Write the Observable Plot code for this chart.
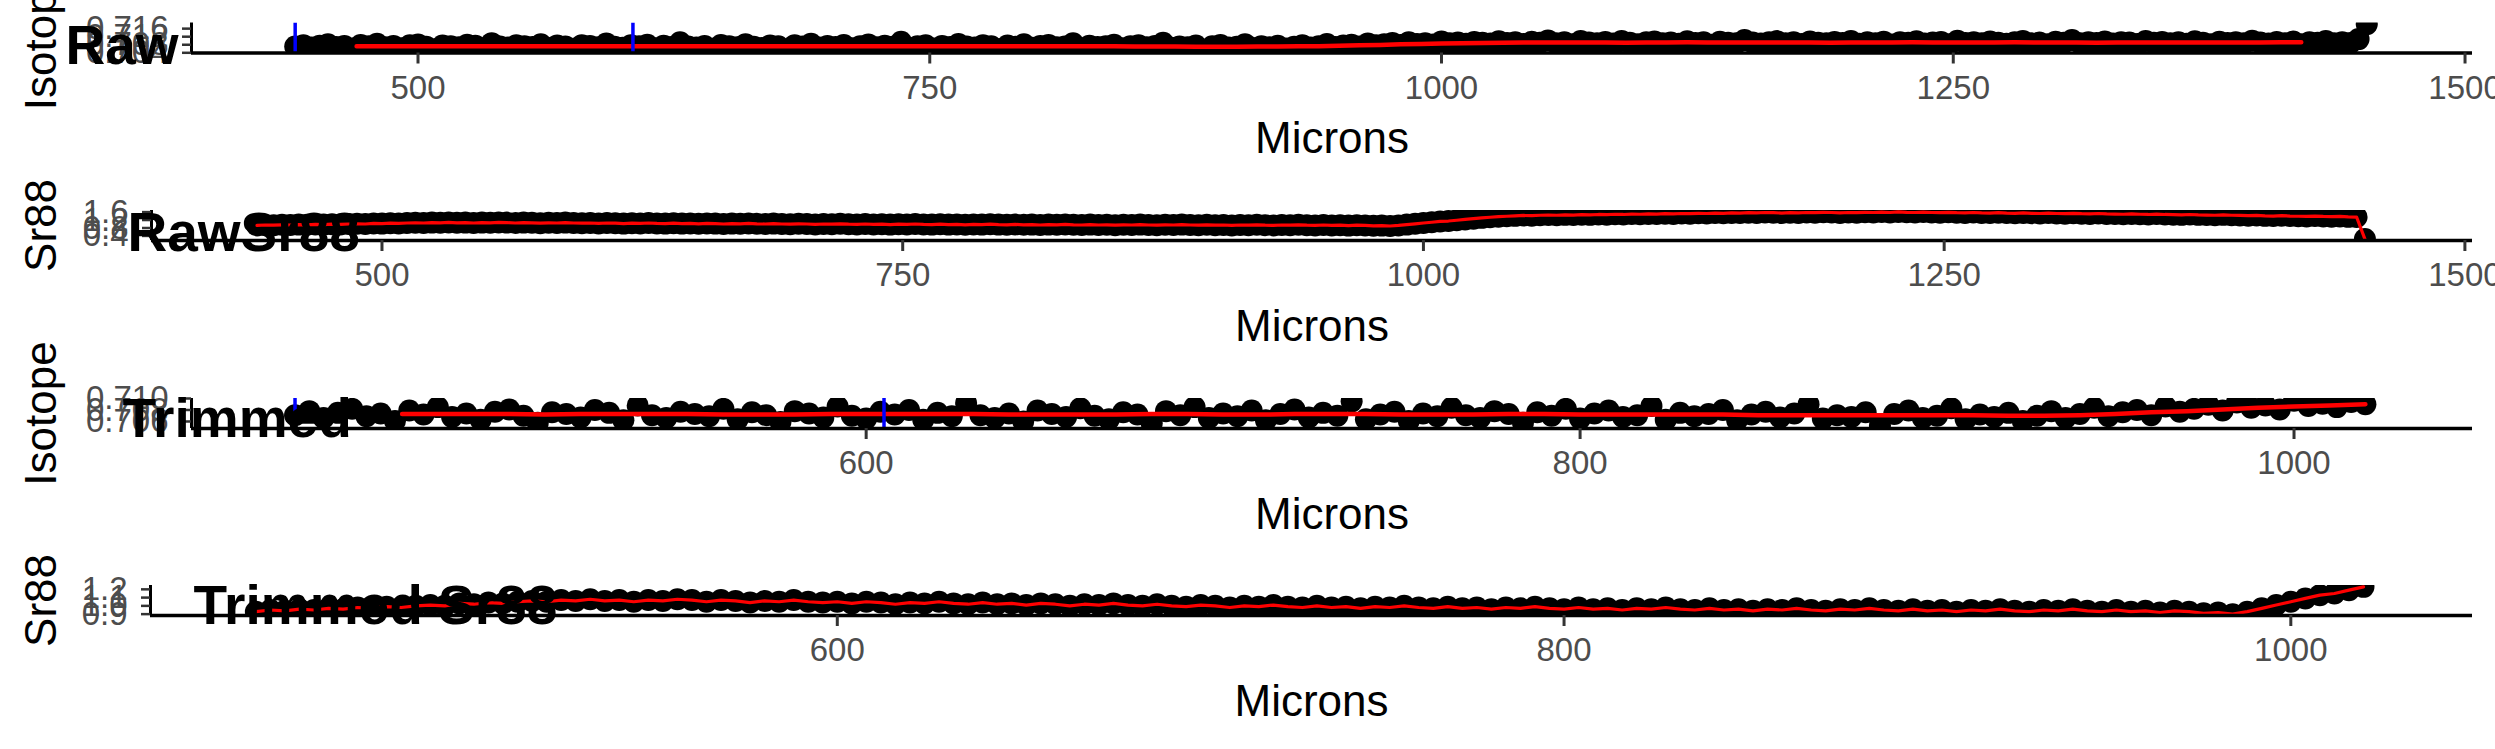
<!DOCTYPE html>
<html><head><meta charset="utf-8">
<script src="https://cdn.jsdelivr.net/npm/d3@7"></script>
<script src="https://cdn.jsdelivr.net/npm/@observablehq/plot@0.6"></script>
<style>
html,body{margin:0;padding:0;background:#fff;}
#chart{width:2495px;height:749px;position:relative;overflow:hidden;background:#fff;}
#chart svg{display:block;overflow:visible;}
</style></head><body><div id="chart"></div>
<script>
// ---------------- data ----------------
const microns = [
440,444,448,452,456,460,464,468,472,476,
480,484,488,492,496,500,504,508,512,516,
520,524,528,532,536,540,544,548,552,556,
560,564,568,572,576,580,584,588,592,596,
600,604,608,612,616,620,624,628,632,636,
640,644,648,652,656,660,664,668,672,676,
680,684,688,692,696,700,704,708,712,716,
720,724,728,732,736,740,744,748,752,756,
760,764,768,772,776,780,784,788,792,796,
800,804,808,812,816,820,824,828,832,836,
840,844,848,852,856,860,864,868,872,876,
880,884,888,892,896,900,904,908,912,916,
920,924,928,932,936,940,944,948,952,956,
960,964,968,972,976,980,984,988,992,996,
1000,1004,1008,1012,1016,1020,1024,1028,1032,1036,
1040,1044,1048,1052,1056,1060,1064,1068,1072,1076,
1080,1084,1088,1092,1096,1100,1104,1108,1112,1116,
1120,1124,1128,1132,1136,1140,1144,1148,1152,1156,
1160,1164,1168,1172,1176,1180,1184,1188,1192,1196,
1200,1204,1208,1212,1216,1220,1224,1228,1232,1236,
1240,1244,1248,1252,1256,1260,1264,1268,1272,1276,
1280,1284,1288,1292,1296,1300,1304,1308,1312,1316,
1320,1324,1328,1332,1336,1340,1344,1348,1352,1356,
1360,1364,1368,1372,1376,1380,1384,1388,1392,1396,
1400,1404,1408,1412,1416,1420,1424,1428,1432,1436,
1440,1444,1448,1452];

const isotope = [
0.7071,0.7078,0.7066,0.7075,0.7082,0.7069,0.7074,0.7061,0.7079,0.7072,
0.7085,0.7068,0.7074,0.7063,0.7077,0.7081,0.7070,0.7058,0.7076,0.7073,
0.7067,0.7080,0.7075,0.7062,0.7088,0.7071,0.7066,0.7077,0.7073,0.7069,
0.7082,0.7064,0.7076,0.7071,0.7059,0.7078,0.7074,0.7067,0.7086,0.7070,
0.7065,0.7077,0.7072,0.7080,0.7063,0.7075,0.7069,0.7092,0.7071,0.7066,
0.7074,0.7060,0.7079,0.7073,0.7068,0.7083,0.7070,0.7064,0.7076,0.7072,
0.7057,0.7078,0.7071,0.7085,0.7066,0.7074,0.7069,0.7079,0.7062,0.7073,
0.7081,0.7067,0.7075,0.7070,0.7095,0.7064,0.7072,0.7077,0.7061,0.7074,
0.7069,0.7084,0.7071,0.7066,0.7078,0.7073,0.7058,0.7076,0.7070,0.7082,
0.7065,0.7074,0.7079,0.7068,0.7071,0.7087,0.7063,0.7075,0.7069,0.7073,
0.7080,0.7062,0.7072,0.7077,0.7067,0.7074,0.7090,0.7065,0.7071,0.7068,
0.7076,0.7053,0.7073,0.7079,0.7066,0.7070,0.7083,0.7064,0.7072,0.7068,
0.7075,0.7061,0.7070,0.7078,0.7066,0.7073,0.7084,0.7069,0.7076,0.7080,
0.7071,0.7086,0.7077,0.7082,0.7089,0.7079,0.7093,0.7084,0.7088,0.7081,
0.7096,0.7087,0.7091,0.7085,0.7094,0.7090,0.7086,0.7097,0.7089,0.7093,
0.7084,0.7095,0.7090,0.7101,0.7087,0.7092,0.7083,0.7098,0.7091,0.7088,
0.7094,0.7086,0.7099,0.7090,0.7082,0.7093,0.7096,0.7088,0.7091,0.7085,
0.7097,0.7089,0.7092,0.7080,0.7095,0.7090,0.7087,0.7103,0.7091,0.7086,
0.7093,0.7098,0.7088,0.7092,0.7084,0.7096,0.7090,0.7087,0.7094,0.7089,
0.7099,0.7085,0.7092,0.7088,0.7095,0.7081,0.7093,0.7090,0.7097,0.7086,
0.7091,0.7094,0.7083,0.7100,0.7089,0.7092,0.7087,0.7096,0.7090,0.7085,
0.7093,0.7098,0.7088,0.7091,0.7082,0.7095,0.7090,0.7104,0.7087,0.7092,
0.7089,0.7096,0.7086,0.7093,0.7091,0.7084,0.7099,0.7090,0.7094,0.7088,
0.7092,0.7085,0.7097,0.7090,0.7083,0.7095,0.7089,0.7093,0.7087,0.7100,
0.7091,0.7086,0.7094,0.7088,0.7096,0.7082,0.7092,0.7090,0.7098,0.7087,
0.7093,0.7089,0.7108,0.7182];

const sr88 = [
0.93,0.95,0.94,0.96,0.95,0.97,0.96,0.98,0.97,0.99,
0.98,1.00,1.01,1.00,1.03,1.02,1.04,1.03,1.05,1.06,
1.05,1.07,1.06,1.08,1.06,1.07,1.05,1.07,1.06,1.08,
1.07,1.05,1.07,1.06,1.04,1.06,1.05,1.07,1.05,1.04,
1.05,1.03,1.05,1.04,1.02,1.04,1.03,1.05,1.03,1.02,
1.04,1.02,1.03,1.01,1.03,1.02,1.00,1.02,1.01,1.03,
1.01,1.00,1.02,1.00,0.99,1.01,1.00,0.98,1.00,0.99,
1.01,0.99,0.98,1.00,0.98,0.99,0.97,0.99,0.98,1.00,
0.98,0.97,0.99,0.97,0.98,0.96,0.98,0.97,0.99,0.97,
0.96,0.98,0.96,0.97,0.95,0.97,0.96,0.98,0.96,0.95,
0.97,0.95,0.96,0.94,0.96,0.95,0.97,0.95,0.94,0.96,
0.95,0.97,0.95,0.94,0.96,0.94,0.95,0.93,0.95,0.94,
0.96,0.94,0.93,0.95,0.94,0.96,0.94,0.93,0.95,0.93,
0.94,0.92,0.94,0.93,0.91,0.92,0.90,0.93,0.97,1.01,
1.05,1.09,1.13,1.15,1.19,1.23,1.27,1.31,1.34,1.37,
1.39,1.41,1.43,1.42,1.44,1.45,1.44,1.46,1.45,1.47,
1.46,1.48,1.47,1.49,1.48,1.50,1.49,1.51,1.50,1.52,
1.51,1.53,1.52,1.54,1.53,1.55,1.54,1.56,1.55,1.57,
1.56,1.58,1.57,1.55,1.57,1.56,1.58,1.57,1.59,1.58,
1.56,1.58,1.57,1.59,1.58,1.60,1.58,1.61,1.59,1.58,
1.60,1.58,1.57,1.59,1.57,1.56,1.58,1.56,1.55,1.57,
1.55,1.54,1.56,1.54,1.53,1.55,1.53,1.52,1.54,1.52,
1.51,1.53,1.51,1.50,1.49,1.51,1.49,1.48,1.50,1.48,
1.47,1.46,1.48,1.46,1.45,1.44,1.46,1.44,1.43,1.42,
1.43,1.41,1.40,1.42,1.40,1.39,1.38,1.40,1.38,1.37,
1.38,1.36,1.35,0.24];

// smoothed isotope (red line), raw profile
const smoothMicronsRaw = [
470,480,490,500,510,520,530,540,550,560,
570,580,590,600,610,620,630,640,650,660,
670,680,690,700,710,720,730,740,750,760,
770,780,790,800,810,820,830,840,850,860,
870,880,890,900,910,920,930,940,950,960,
970,980,990,1000,1010,1020,1030,1040,1050,1060,
1070,1080,1090,1100,1110,1120,1130,1140,1150,1160,
1170,1180,1190,1200,1210,1220,1230,1240,1250,1260,
1270,1280,1290,1300,1310,1320,1330,1340,1350,1360,
1370,1380,1390,1400,1410,1420];
const smoothIsotopeRaw = [
0.7073,0.7073,0.7073,0.7073,0.7072,0.7073,0.7073,0.7073,0.7073,0.7072,
0.7072,0.7072,0.7073,0.7073,0.7073,0.7073,0.7073,0.7072,0.7072,0.7072,
0.7072,0.7073,0.7073,0.7072,0.7072,0.7073,0.7073,0.7073,0.7072,0.7072,
0.7072,0.7073,0.7073,0.7072,0.7072,0.7072,0.7072,0.7072,0.7071,0.7071,
0.7071,0.7070,0.7070,0.7070,0.7071,0.7071,0.7072,0.7073,0.7075,0.7077,
0.7079,0.7082,0.7084,0.7086,0.7088,0.7089,0.7090,0.7091,0.7091,0.7091,
0.7091,0.7091,0.7090,0.7091,0.7091,0.7092,0.7091,0.7091,0.7091,0.7091,
0.7091,0.7091,0.7090,0.7091,0.7091,0.7091,0.7092,0.7091,0.7091,0.7091,
0.7091,0.7092,0.7091,0.7091,0.7091,0.7090,0.7091,0.7091,0.7091,0.7091,
0.7091,0.7091,0.7091,0.7091,0.7092,0.7092];

// smoothed isotope (red line), trimmed profile
const smoothMicronsTrim = [
470,480,490,500,510,520,530,540,550,560,
570,580,590,600,610,620,630,640,650,660,
670,680,690,700,710,720,730,740,750,760,
770,780,790,800,810,820,830,840,850,860,
870,880,890,900,910,920,930,940,950,960,
970,980,990,1000,1010,1020];
const smoothIsotopeTrim = [
0.7073,0.7073,0.7073,0.7073,0.7072,0.7073,0.7073,0.7073,0.7073,0.7072,
0.7072,0.7072,0.7073,0.7073,0.7073,0.7073,0.7073,0.7072,0.7072,0.7072,
0.7072,0.7073,0.7073,0.7072,0.7072,0.7073,0.7073,0.7073,0.7072,0.7072,
0.7072,0.7073,0.7073,0.7072,0.7072,0.7072,0.7072,0.7072,0.7071,0.7071,
0.7071,0.7071,0.7071,0.7071,0.7071,0.7070,0.7070,0.7071,0.7073,0.7076,
0.7078,0.7081,0.7084,0.7086,0.7088,0.7090];

const blueMarkers = [440, 605];
const trimEnd = 1020;

const titles  = ["Raw", "RawSr88", "Trimmed", "Trimmed Sr88"];
const yTitles = ["Isotope", "Sr88", "Isotope", "Sr88"];
const xTitle  = "Microns";

const xTicksRaw  = [500, 750, 1000, 1250, 1500];
const xTicksTrim = [600, 800, 1000];
const yTicksIsoRaw  = [0.704, 0.708, 0.712, 0.716];
const yTicksSrRaw   = [0.4, 0.8, 1.2, 1.6];
const yTicksIsoTrim = [0.706, 0.708, 0.710];
const yTicksSrTrim  = [0.9, 1.0, 1.1, 1.2];

// ---------------- tables ----------------
const isoRows = microns.map((m, i) => ({m, v: isotope[i]}));
const srRows  = microns.map((m, i) => ({m, v: sr88[i]}));
const isoTrim = isoRows.filter(d => d.m <= trimEnd);
const srTrim  = srRows.filter(d => d.m <= trimEnd);
const smoothRaw  = smoothMicronsRaw.map((m, i) => ({m, v: smoothIsotopeRaw[i]}));
const smoothTrim = smoothMicronsTrim.map((m, i) => ({m, v: smoothIsotopeTrim[i]}));

// ---------------- layout ----------------
const FONT = "'Liberation Sans', Arial, Helvetica, sans-serif";
const panels = [
  {rows: isoRows, smooth: smoothRaw, title: titles[0], yTitle: yTitles[0], xTicks: xTicksRaw, yTicks: yTicksIsoRaw, yFmt: ".3f",
   xDomain: [389.35, 1503.65], yDomain: [0.7039, 0.7188], height: 187, marginTop: 22.5, marginLeft: 191, titleLeft: 65, titleBase: 63},
  {rows: srRows, smooth: null, title: titles[1], yTitle: yTitles[1], xTicks: xTicksRaw, yTicks: yTicksSrRaw, yFmt: ".1f",
   xDomain: [389.35, 1503.65], yDomain: [0.17, 1.68], height: 188, marginTop: 23, marginLeft: 151, titleLeft: 127, titleBase: 63},
  {rows: isoTrim, smooth: smoothTrim, title: titles[2], yTitle: yTitles[2], xTicks: xTicksTrim, yTicks: yTicksIsoTrim, yFmt: ".3f",
   xDomain: [411, 1050], yDomain: [0.70478, 0.7100], height: 187, marginTop: 23, marginLeft: 191, titleLeft: 122, titleBase: 61.5},
  {rows: srTrim, smooth: null, title: titles[3], yTitle: yTitles[3], xTicks: xTicksTrim, yTicks: yTicksSrTrim, yFmt: ".1f",
   xDomain: [411, 1050], yDomain: [0.8835, 1.2465], height: 187, marginTop: 23, marginLeft: 150, titleLeft: 193, titleBase: 61.5}
];
const FRAME_H = 30, MARGIN_RIGHT = 23, YTITLE_X = 55, DOT_R = 11;

const root = document.getElementById("chart");
for (const p of panels) {
  const marks = [
    Plot.dot(p.rows, {x: "m", y: "v", r: DOT_R, fill: "black", stroke: "none", clip: true})
  ];
  if (p.smooth) {
    marks.push(Plot.line(p.smooth, {x: "m", y: "v", stroke: "#FF0000", strokeWidth: 4.5, clip: true}));
    marks.push(Plot.ruleX(blueMarkers, {stroke: "#0000FF", strokeWidth: 3.5, clip: true}));
  } else {
    marks.push(Plot.line(p.rows, {x: "m", y: "v", stroke: "#FF0000", strokeWidth: 3.2, clip: true}));
  }
  marks.push(
    Plot.ruleY([p.yDomain[0]], {stroke: "black", strokeWidth: 3.5}),
    Plot.ruleX([p.xDomain[0]], {stroke: "black", strokeWidth: 3}),
    Plot.axisX(p.xTicks, {tickSize: 11, tickPadding: 11.5, fontSize: 33, stroke: "#333333", fill: "#4D4D4D",
      strokeWidth: 3, tickFormat: d => String(d), label: null}),
    Plot.axisY(p.yTicks, {tickSize: 9, tickPadding: 14, fontSize: 33, stroke: "#333333", fill: "#4D4D4D",
      strokeWidth: 2.5, tickFormat: d3.format(p.yFmt), label: null}),
    Plot.text([xTitle], {text: d => d, frameAnchor: "bottom", dy: 100, lineAnchor: "bottom", fontSize: 44, fill: "black"}),
    Plot.text([p.yTitle], {text: d => d, frameAnchor: "left", rotate: -90, dx: YTITLE_X - p.marginLeft,
      textAnchor: "middle", lineAnchor: "bottom", fontSize: 44, fill: "black"}),
    Plot.text([p.title], {text: d => d, frameAnchor: "top-left", dx: p.titleLeft - p.marginLeft,
      dy: p.titleBase - p.marginTop, textAnchor: "start", lineAnchor: "bottom", fontSize: 55, fontWeight: "bold", fill: "black"})
  );
  const svg = Plot.plot({
    width: 2495,
    height: p.height,
    marginTop: p.marginTop,
    marginBottom: p.height - p.marginTop - FRAME_H,
    marginLeft: p.marginLeft,
    marginRight: MARGIN_RIGHT,
    style: {fontFamily: FONT, overflow: "visible", background: "transparent"},
    x: {domain: p.xDomain},
    y: {domain: p.yDomain},
    marks
  });
  root.appendChild(svg);
}
</script></body></html>
